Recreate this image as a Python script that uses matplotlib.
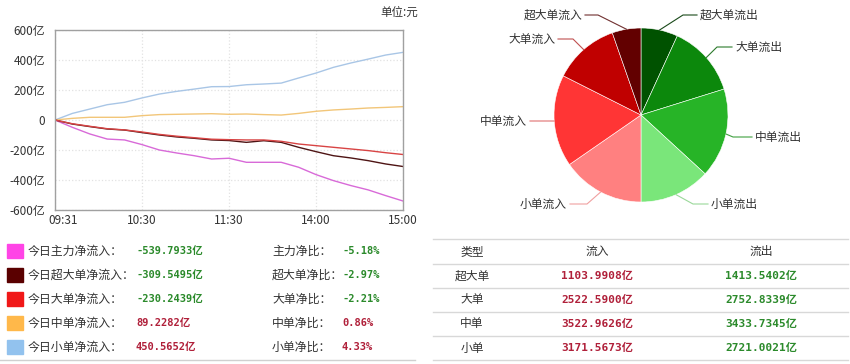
import numpy as np
import matplotlib
matplotlib.use('Agg')
import matplotlib.pyplot as plt
import matplotlib.transforms as mtransforms
from matplotlib.patches import Rectangle

plt.rcParams['font.family'] = ['Noto Sans CJK SC', 'DejaVu Sans']
MONO = ['DejaVu Sans Mono', 'Noto Sans CJK SC']

# trading minutes since 09:31 (lunch break removed)
minutes = [0, 12, 24, 36, 48, 60, 72, 84, 96, 108, 120,
           132, 144, 156, 168, 180, 192, 204, 216, 228, 240]
tick_pos = [0, 60, 120, 180, 240]
tick_labels = ['09:31', '10:30', '11:30', '14:00', '15:00']

main_flow = [0, -49, -93, -127, -133, -164, -200, -220, -238, -260, -255,
             -282, -282, -282, -315, -364, -404, -437, -466, -504, -540]
super_flow = [0, -27, -44, -60, -67, -84, -100, -113, -122, -133, -137,
              -149, -138, -149, -182, -211, -238, -253, -271, -293, -310]
large_flow = [0, -25, -42, -58, -66, -80, -96, -108, -118, -128, -131,
              -133, -133, -142, -160, -171, -182, -193, -204, -218, -230]
medium_flow = [0, 11, 18, 18, 18, 29, 36, 38, 40, 42, 38,
               40, 36, 33, 44, 58, 67, 73, 80, 84, 89]
small_flow = [0, 44, 73, 102, 118, 147, 173, 191, 206, 222, 223,
              235, 240, 246, 280, 313, 351, 380, 406, 433, 451]

series_names = ['今日主力净流入：', '今日超大单净流入：', '今日大单净流入：',
                '今日中单净流入：', '今日小单净流入：']
ratio_names = ['主力净比：', '超大单净比：', '大单净比：', '中单净比：', '小单净比：']
net_values = [-539.7933, -309.5495, -230.2439, 89.2282, 450.5652]
net_ratios = [-5.18, -2.97, -2.21, 0.86, 4.33]

order_types = ['超大单', '大单', '中单', '小单']
inflow = [1103.9908, 2522.5900, 3522.9626, 3171.5673]
outflow = [1413.5402, 2752.8339, 3433.7345, 2721.0021]

line_colors = ['#d86ad8', '#4e1414', '#d84444', '#f2c679', '#a9c6e6']
box_colors = ['#ff44e6', '#5a0000', '#f01818', '#ffb84a', '#92c2ee']
out_colors = ['#005200', '#0c880c', '#27b427', '#7ae67a']
in_colors = ['#ff8080', '#ff3535', '#c00000', '#620000']
RED = '#b0203a'
GREEN = '#2b8a2b'
TXT = '#333333'

W, H = 850, 364
def fx(x):
    return x / W
def fy(y):
    return 1 - y / H

fig = plt.figure(figsize=(W / 100, H / 100), dpi=100)

# ---- line chart
ax = fig.add_axes([fx(55), fy(210), 348 / W, 180 / H])
flows = [small_flow, medium_flow, main_flow, super_flow, large_flow]
cols = [line_colors[4], line_colors[3], line_colors[0], line_colors[1], line_colors[2]]
for f, c in zip(flows, cols):
    ax.plot(minutes, f, color=c, lw=1.0)
ax.set_xlim(0, 240)
ax.set_ylim(-600, 600)
ax.set_xticks(tick_pos)
ax.set_xticklabels(tick_labels)
yt = [600, 400, 200, 0, -200, -400, -600]
ax.set_yticks(yt)
ax.set_yticklabels([('%d亿' % v) if v != 0 else '0' for v in yt])
ax.tick_params(length=0, labelsize=8.5, colors=TXT)
ax.tick_params(axis='y', pad=7)
ax.tick_params(axis='x', pad=3)
# first time label sits a little right of the axis edge
first = ax.get_xticklabels()[0]
first.set_transform(first.get_transform() +
                    mtransforms.ScaledTranslation(8 / 100, 0, fig.dpi_scale_trans))
ax.grid(True, color='#e2e2e2', ls=':', lw=0.9)
for s in ax.spines.values():
    s.set_color('#a0a0a0')
    s.set_linewidth(1.0)
fig.text(fx(418), fy(12), '单位:元', ha='right', va='center', fontsize=8.3, color=TXT)

# ---- legend rows below the chart
row_y = [251, 275, 299, 323, 347]
for i in range(5):
    y = row_y[i]
    fig.patches.append(Rectangle((fx(7), fy(y + 7)), 16 / W, 14 / H,
                                 transform=fig.transFigure, color=box_colors[i]))
    fig.text(fx(28), fy(y), series_names[i], va='center', fontsize=8.6, color=TXT)
    c = GREEN if net_values[i] < 0 else RED
    fig.text(fx(136), fy(y), '%.4f亿' % net_values[i], va='center', fontsize=7.5,
             family=MONO, weight='bold', color=c)
    fig.text(fx(272), fy(y), ratio_names[i], va='center', fontsize=8.6, color=TXT)
    c = GREEN if net_ratios[i] < 0 else RED
    fig.text(fx(342), fy(y), '%.2f%%' % net_ratios[i], va='center', fontsize=7.5,
             family=MONO, weight='bold', color=c)
fig.add_artist(plt.Line2D([0, fx(415)], [fy(360), fy(360)], color='#d0d0d0', lw=1))

# ---- pie
R = 87.0
pax = fig.add_axes([fx(441), fy(225), 400 / W, 220 / H])
pie_vals = outflow + inflow[::-1]
pie_labels = [t + '流出' for t in order_types] + [t + '流入' for t in order_types[::-1]]
pie_cols = out_colors + in_colors
wedges, _ = pax.pie(pie_vals, colors=pie_cols, startangle=90, counterclock=False,
                    radius=1, wedgeprops=dict(edgecolor='white', linewidth=0.4))
pax.set_xlim(-200 / R, 200 / R)
pax.set_ylim(-110 / R, 110 / R)
pax.set_aspect('equal')
pax.axis('off')

# label layout in px relative to pie centre: elbow x, elbow y, line end x
label_layout = [(42, 100, 56), (76, 68, 91), (92, -22, 111), (52, -89, 67),
                (-54, -89, -71), (-90, -6, -111), (-68, 76, -83), (-43, 100, -56)]
lead_cols = ['#1a4a1a', '#2c7a2c', '#40a040', '#9ad89a',
             '#f0a0a0', '#e07070', '#c05050', '#703030']
for w, lab, (ex, ey, endx), lc in zip(wedges, pie_labels, label_layout, lead_cols):
    mid = np.deg2rad((w.theta1 + w.theta2) / 2)
    px, py = np.cos(mid), np.sin(mid)
    pax.plot([px, ex / R, endx / R], [py, ey / R, ey / R], color=lc, lw=0.8,
             clip_on=False)
    right = endx > 0
    tx = (endx + (3 if right else -3)) / R
    pax.text(tx, ey / R, lab, ha='left' if right else 'right', va='center',
             fontsize=8.5, color=TXT)

# ---- table
tab_lines = [239, 264, 288, 312, 336, 360]
for y in tab_lines:
    fig.add_artist(plt.Line2D([fx(433), fx(848)], [fy(y), fy(y)], color='#d8d8d8', lw=1))
col_x = [472, 597, 761]
mids = [(tab_lines[k] + tab_lines[k + 1]) / 2 for k in range(5)]
for x, h in zip(col_x, ['类型', '流入', '流出']):
    fig.text(fx(x), fy(mids[0]), h, ha='center', va='center', fontsize=8.5, color=TXT)
for k in range(4):
    y = mids[k + 1]
    fig.text(fx(col_x[0]), fy(y), order_types[k], ha='center', va='center',
             fontsize=8.5, color=TXT)
    fig.text(fx(col_x[1]), fy(y), '%.4f亿' % inflow[k], ha='center', va='center',
             fontsize=8, family=MONO, weight='bold', color=RED)
    fig.text(fx(col_x[2]), fy(y), '%.4f亿' % outflow[k], ha='center', va='center',
             fontsize=8, family=MONO, weight='bold', color=GREEN)

fig.savefig('out.png', dpi=100)
